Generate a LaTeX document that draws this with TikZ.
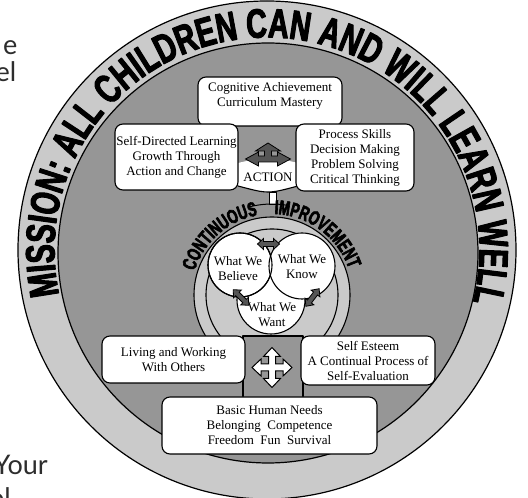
\documentclass[tikz,border=0pt]{standalone}
\usepackage{fontspec}
\setmainfont{Liberation Serif}
\newfontfamily\mfont{Liberation Sans Bold}[FakeStretch=0.70, FakeBold=2.5]
\newfontfamily\cfont{Liberation Sans Bold}[FakeStretch=0.66, FakeBold=3]
\newfontfamily\efont{Lato}
\usetikzlibrary{decorations.text}
\definecolor{ringgray}{RGB}{202,202,202}
\definecolor{diskgray}{RGB}{150,150,150}
\definecolor{arrowgray}{RGB}{85,85,85}
\definecolor{edgetext}{RGB}{45,45,45}
\tikzset{
  infobox/.style={draw=black, line width=1.1pt, fill=white, rounded corners=8pt,
    inner sep=0pt, align=center, font=\fontsize{13}{15}\selectfont},
  boxtext/.style={inner sep=0pt, align=center, font=\fontsize{13}{15}\selectfont},
  edgeword/.style={inner sep=0pt, text=edgetext, font=\efont\fontsize{27}{30}\selectfont, anchor=base east},
  outline/.style={draw=black, line width=1.2pt},
  vennc/.style={draw=black, line width=1.1pt, fill=white},
  arrowshape/.style={draw=black, line width=0.8pt, fill=arrowgray, line join=miter},
  dblarrow/.pic={\path[arrowshape] (-11,0) -- (-5,5.5) -- (-5,2.5) -- (5,2.5) -- (5,5.5) -- (11,0)
      -- (5,-5.5) -- (5,-2.5) -- (-5,-2.5) -- (-5,-5.5) -- cycle;},
  actionarrow/.pic={\path[arrowshape] (-22.5,0) -- (-9.5,7) -- (-9.5,3) -- (-3.5,3) -- (-3.5,8)
      -- (-12.5,8) -- (0,16) -- (12.5,8) -- (3.5,8) -- (3.5,3) -- (9.5,3) -- (9.5,7) -- (22.5,0)
      -- (9.5,-7) -- (9.5,-3) -- (-9.5,-3) -- (-9.5,-7) -- cycle;},
  fourwhite/.pic={\path[draw=black, line width=1pt, fill=white, line join=miter]
      (-3.5,11) -- (-8.5,11) -- (0,20) -- (8.5,11) -- (3.5,11) -- (3.5,3.5) -- (11,3.5) -- (11,8.5)
      -- (20,0) -- (11,-8.5) -- (11,-3.5) -- (3.5,-3.5) -- (3.5,-11) -- (8.5,-11) -- (0,-20)
      -- (-8.5,-11) -- (-3.5,-11) -- (-3.5,-3.5) -- (-11,-3.5) -- (-11,-8.5) -- (-20,0)
      -- (-11,8.5) -- (-11,3.5) -- (-3.5,3.5) -- cycle;}
}
\begin{document}
\begin{tikzpicture}[x=1pt,y=1pt,line join=round]
\useasboundingbox (0,0) rectangle (528,498);
\clip (0,0) rectangle (528,498);
\coordinate (oc) at (267,248);
\coordinate (dc) at (268,245);
\coordinate (cc) at (272,203);

% outer ring and inner disk
\path[outline, fill=ringgray] (oc) circle[radius=249];
\path[outline, fill=diskgray] (dc) circle[radius=210];

% mission text
\path[decorate, decoration={text along path, text align=center,
  text={|\mfont\fontsize{41}{42}\selectfont|MISSION: ALL CHILDREN CAN AND WILL LEARN WELL}}]
  ([shift={(197:212.5)}]oc) arc[start angle=197, end angle=-19, radius=212.5];

% cognitive box (bottom hidden)
\path[infobox] (198,372) rectangle (342,421);
\node[boxtext] (cogtext) at (270,402) {Cognitive Achievement\\Curriculum Mastery};

% ACTION banner
\fill[white] (238,335) .. controls (268,342) .. (298,335) -- (298,312) .. controls (268,304) .. (238,312) -- cycle;
\draw[line width=1.1pt] (238,312) .. controls (268,304) .. (298,312);
\node[boxtext] (action) at (268,321) {ACTION};
\pic at (268,339) {actionarrow};
\draw[line width=1pt, fill=white] (269.5,293) rectangle (276.5,305);

% continuous improvement ring
\path[outline, line width=1.1pt, fill=ringgray] (cc) circle[radius=78];
\draw[line width=1.1pt] (cc) circle[radius=66];
\draw[line width=1pt] ([shift={(104:91)}]cc) arc[start angle=104, end angle=80, radius=91];
\path[decorate, decoration={text along path, text align=center,
  text={|\cfont\fontsize{20}{21}\selectfont|CONTINUOUS}}]
  ([shift={(176:81)}]cc) arc[start angle=176, end angle=87, radius=81];
\path[decorate, decoration={text along path, text align=center,
  text={|\cfont\fontsize{20}{21}\selectfont|IMPROVEMENT}}]
  ([shift={(98.5:81)}]cc) arc[start angle=98.5, end angle=8.5, radius=81];

% three circles (Venn)
\path[vennc] (271,198) circle[radius=34];
\path[vennc] (240,233) circle[radius=32];
\path[vennc] (302,232) circle[radius=33];
\draw[line width=1.1pt] (240,233) circle[radius=32];
\node[boxtext] (believe) at (238,229) {What We\\Believe};
\node[boxtext] (know) at (302,231.5) {What We\\Know};
\node[boxtext] (want) at (272,183) {What We\\Want};
\pic at (268.5,254) {dblarrow};
\pic[rotate=-45] at (241,200.5) {dblarrow};
\pic[rotate=-127] at (312.5,200.5) {dblarrow};

% bottom band and white arrow
\path[outline, line width=1.1pt, fill=diskgray] (243,100) rectangle (303,162);
\pic at (272,130.5) {fourwhite};

% boxes
\node[infobox, minimum width=123, minimum height=66] (selfdir) at (176.5,341)
  {Self-Directed Learning\\Growth Through\\Action and Change};
\node[infobox, minimum width=118, minimum height=67] (process) at (355,340.5)
  {Process Skills\\Decision Making\\Problem Solving\\Critical Thinking};
\node[infobox, minimum width=143, minimum height=47] (living) at (173.5,138.5)
  {Living and Working\\With Others};
\node[infobox, minimum width=134, minimum height=49] (esteem) at (368,137.5)
  {Self Esteem\\A Continual Process of\\Self-Evaluation};
\node[infobox, minimum width=215, minimum height=57] (basic) at (269.5,72.5)
  {Basic Human Needs\\Belonging\enspace Competence\\Freedom\enspace Fun\enspace Survival};

% cropped page text at the left edge
\node[edgeword] (ew1) at (17.5,443) {e};
\node[edgeword] (ew2) at (16.5,416) {el};
\node[edgeword] (ew3) at (48,23) {Your};
\node[edgeword] (ew4) at (11,-10) {ol};
\end{tikzpicture}
\end{document}
